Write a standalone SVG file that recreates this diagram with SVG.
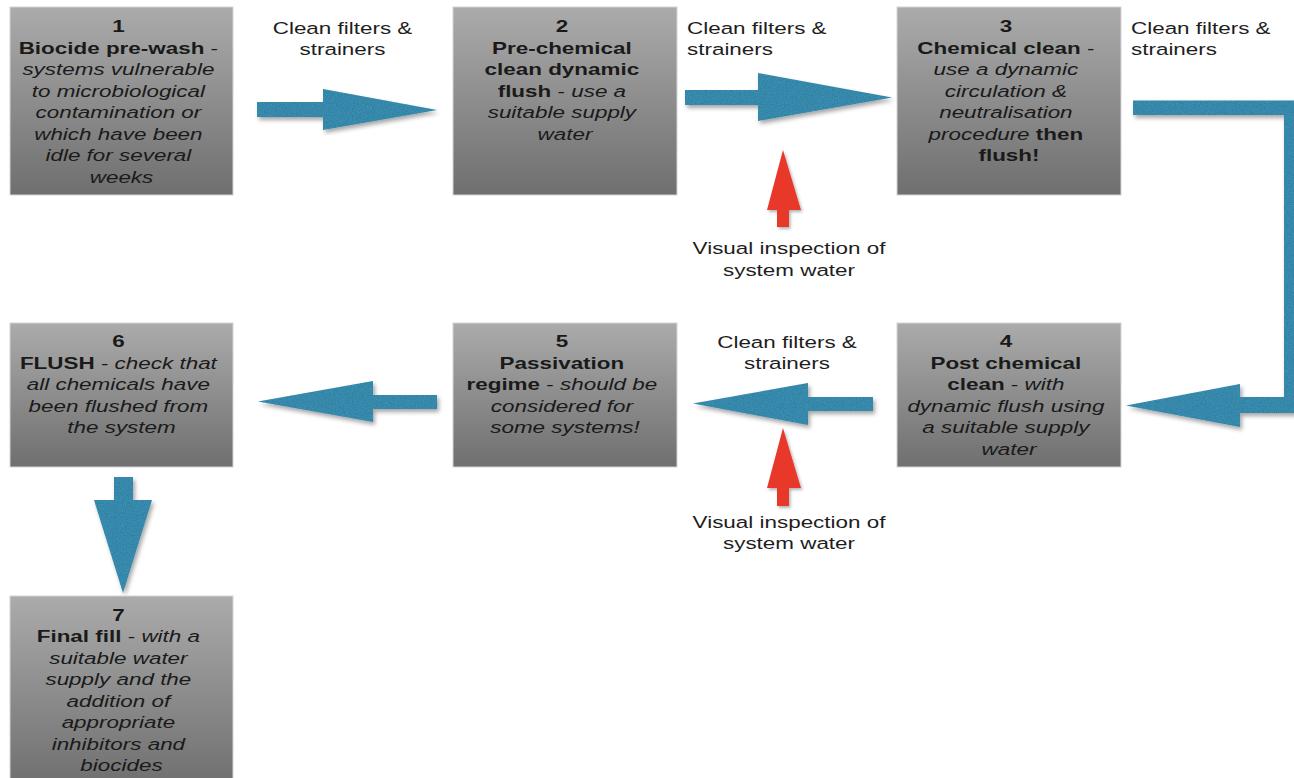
<svg xmlns="http://www.w3.org/2000/svg" width="1294" height="778" viewBox="0 0 1294 778">
  <defs>
    <linearGradient id="boxGrad" x1="0" y1="0" x2="0" y2="1">
      <stop offset="0" stop-color="#ababab"/>
      <stop offset="1" stop-color="#6f6f6f"/>
    </linearGradient>
    <filter id="arrowFx" x="-15%" y="-15%" width="135%" height="140%">
      <feTurbulence type="fractalNoise" baseFrequency="0.9" numOctaves="2" seed="4" result="noise"/>
      <feColorMatrix in="noise" type="matrix" values="0 0 0 0 0  0 0 0 0 0.1  0 0 0 0 0.15  0 0 0 0.9 -0.35" result="specks"/>
      <feComposite in="specks" in2="SourceGraphic" operator="in" result="tex"/>
      <feDropShadow in="SourceGraphic" dx="2" dy="3" stdDeviation="2" flood-color="#000" flood-opacity="0.35" result="shadowed"/>
      <feMerge>
        <feMergeNode in="shadowed"/>
        <feMergeNode in="tex"/>
      </feMerge>
    </filter>
    <filter id="redFx" x="-20%" y="-10%" width="150%" height="130%">
      <feDropShadow dx="1.5" dy="2" stdDeviation="1.5" flood-color="#000" flood-opacity="0.3"/>
    </filter>
  </defs>
  <style>
    .box { fill: url(#boxGrad); stroke: #d4d4d4; stroke-width: 1; }
    .bt { font-family: "Liberation Sans", Arial, Helvetica, sans-serif; font-size: 16.5px; fill: #1a1a1a; text-anchor: middle; }
    .lbl { font-family: "Liberation Sans", Arial, Helvetica, sans-serif; font-size: 17px; fill: #1e1e1e; }
    .mid { text-anchor: middle; }
    .b { font-weight: bold; }
    .i { font-style: italic; }
    .blue { fill: #3b8db1; filter: url(#arrowFx); }
    .red { fill: #e8382c; filter: url(#redFx); }
  </style>
  <rect x="0" y="0" width="1294" height="778" fill="#ffffff"/>

  <g id="connectors">
    <polygon class="blue" points="257,102 323,102 323,89 437,110 323,130 323,117 257,117"/>
    <polygon class="blue" points="685,90 758,90 758,73 892,97.5 758,121 758,105 685,105"/>
    <polygon class="blue" points="1133,100.5 1300,100.5 1300,413 1240,413 1240,427 1126,405.5 1240,384 1240,397 1284,397 1284,115 1133,115"/>
    <polygon class="blue" points="873,397 808,397 808,383 693,403.5 808,425 808,411 873,411"/>
    <polygon class="blue" points="437,395 373,395 373,381 258,401.5 373,422 373,409 437,409"/>
    <polygon class="blue" points="114,477 133,477 133,500 152,500 123,593 94,500 114,500"/>
    <polygon class="red" points="783,150 801,210 789,210 789,227 777,227 777,210 767,210"/>
    <polygon class="red" points="783,428 801,488 789,488 789,506 777,506 777,488 767,488"/>
  </g>

  <g id="labels">
    <text class="lbl mid" transform="translate(342.5 0) scale(1.32 1)"><tspan x="0" y="34">Clean filters &amp;</tspan><tspan x="0" y="55">strainers</tspan></text>
    <text class="lbl" transform="translate(687 0) scale(1.32 1)"><tspan x="0" y="34">Clean filters &amp;</tspan><tspan x="0" y="55">strainers</tspan></text>
    <text class="lbl" transform="translate(1131 0) scale(1.32 1)"><tspan x="0" y="34">Clean filters &amp;</tspan><tspan x="0" y="55">strainers</tspan></text>
    <text class="lbl mid" transform="translate(787 0) scale(1.32 1)"><tspan x="0" y="348.5">Clean filters &amp;</tspan><tspan x="0" y="369.5">strainers</tspan></text>
    <text class="lbl mid" transform="translate(789 0) scale(1.32 1)"><tspan x="0" y="254.5">Visual inspection of</tspan><tspan x="0" y="276">system water</tspan></text>
    <text class="lbl mid" transform="translate(789 0) scale(1.32 1)"><tspan x="0" y="528">Visual inspection of</tspan><tspan x="0" y="549.5">system water</tspan></text>
  </g>

  <g id="step1">
    <rect class="box" x="10" y="7" width="223" height="188"/>
    <text class="bt" transform="translate(121.5 0) scale(1.36 1)">
      <tspan x="0" y="32.5" class="b">1</tspan>
      <tspan x="0" y="54"><tspan class="b">Biocide pre-wash</tspan> -</tspan>
      <tspan x="0" y="75.5" class="i">systems vulnerable</tspan>
      <tspan x="0" y="97" class="i">to microbiological</tspan>
      <tspan x="0" y="118.5" class="i">contamination or</tspan>
      <tspan x="0" y="140" class="i">which have been</tspan>
      <tspan x="0" y="161.5" class="i">idle for several</tspan>
      <tspan x="0" y="183" class="i">weeks</tspan>
    </text>
  </g>

  <g id="step2">
    <rect class="box" x="453" y="7" width="224" height="188"/>
    <text class="bt" transform="translate(565 0) scale(1.36 1)">
      <tspan x="0" y="32.5" class="b">2</tspan>
      <tspan x="0" y="54" class="b">Pre-chemical</tspan>
      <tspan x="0" y="75.5" class="b">clean dynamic</tspan>
      <tspan x="0" y="97"><tspan class="b">flush</tspan> - <tspan class="i">use a</tspan></tspan>
      <tspan x="0" y="118.5" class="i">suitable supply</tspan>
      <tspan x="0" y="140" class="i">water</tspan>
    </text>
  </g>

  <g id="step3">
    <rect class="box" x="897" y="7" width="224" height="188"/>
    <text class="bt" transform="translate(1009 0) scale(1.36 1)">
      <tspan x="0" y="32.5" class="b">3</tspan>
      <tspan x="0" y="54"><tspan class="b">Chemical clean</tspan> -</tspan>
      <tspan x="0" y="75.5" class="i">use a dynamic</tspan>
      <tspan x="0" y="97" class="i">circulation &amp;</tspan>
      <tspan x="0" y="118.5" class="i">neutralisation</tspan>
      <tspan x="0" y="140"><tspan class="i">procedure</tspan><tspan class="b"> then</tspan></tspan>
      <tspan x="0" y="161.5" class="b">flush!</tspan>
    </text>
  </g>

  <g id="step4">
    <rect class="box" x="897" y="323" width="224" height="144"/>
    <text class="bt" transform="translate(1009 0) scale(1.36 1)">
      <tspan x="0" y="347.5" class="b">4</tspan>
      <tspan x="0" y="369" class="b">Post chemical</tspan>
      <tspan x="0" y="390.5"><tspan class="b">clean</tspan> - <tspan class="i">with</tspan></tspan>
      <tspan x="0" y="412" class="i">dynamic flush using</tspan>
      <tspan x="0" y="433.5" class="i">a suitable supply</tspan>
      <tspan x="0" y="455" class="i">water</tspan>
    </text>
  </g>

  <g id="step5">
    <rect class="box" x="453" y="323" width="224" height="144"/>
    <text class="bt" transform="translate(565 0) scale(1.36 1)">
      <tspan x="0" y="347.5" class="b">5</tspan>
      <tspan x="0" y="369" class="b">Passivation</tspan>
      <tspan x="0" y="390.5"><tspan class="b">regime</tspan> - <tspan class="i">should be</tspan></tspan>
      <tspan x="0" y="412" class="i">considered for</tspan>
      <tspan x="0" y="433.5" class="i">some systems!</tspan>
    </text>
  </g>

  <g id="step6">
    <rect class="box" x="10" y="323" width="223" height="144"/>
    <text class="bt" transform="translate(121.5 0) scale(1.36 1)">
      <tspan x="0" y="347.5" class="b">6</tspan>
      <tspan x="0" y="369"><tspan class="b">FLUSH</tspan> - <tspan class="i">check that</tspan></tspan>
      <tspan x="0" y="390.5" class="i">all chemicals have</tspan>
      <tspan x="0" y="412" class="i">been flushed from</tspan>
      <tspan x="0" y="433.5" class="i">the system</tspan>
    </text>
  </g>

  <g id="step7">
    <rect class="box" x="10" y="596" width="223" height="190"/>
    <text class="bt" transform="translate(121.5 0) scale(1.36 1)">
      <tspan x="0" y="621" class="b">7</tspan>
      <tspan x="0" y="642.5"><tspan class="b">Final fill</tspan> - <tspan class="i">with a</tspan></tspan>
      <tspan x="0" y="664" class="i">suitable water</tspan>
      <tspan x="0" y="685.5" class="i">supply and the</tspan>
      <tspan x="0" y="707" class="i">addition of</tspan>
      <tspan x="0" y="728.5" class="i">appropriate</tspan>
      <tspan x="0" y="750" class="i">inhibitors and</tspan>
      <tspan x="0" y="771.5" class="i">biocides</tspan>
    </text>
  </g>
</svg>
